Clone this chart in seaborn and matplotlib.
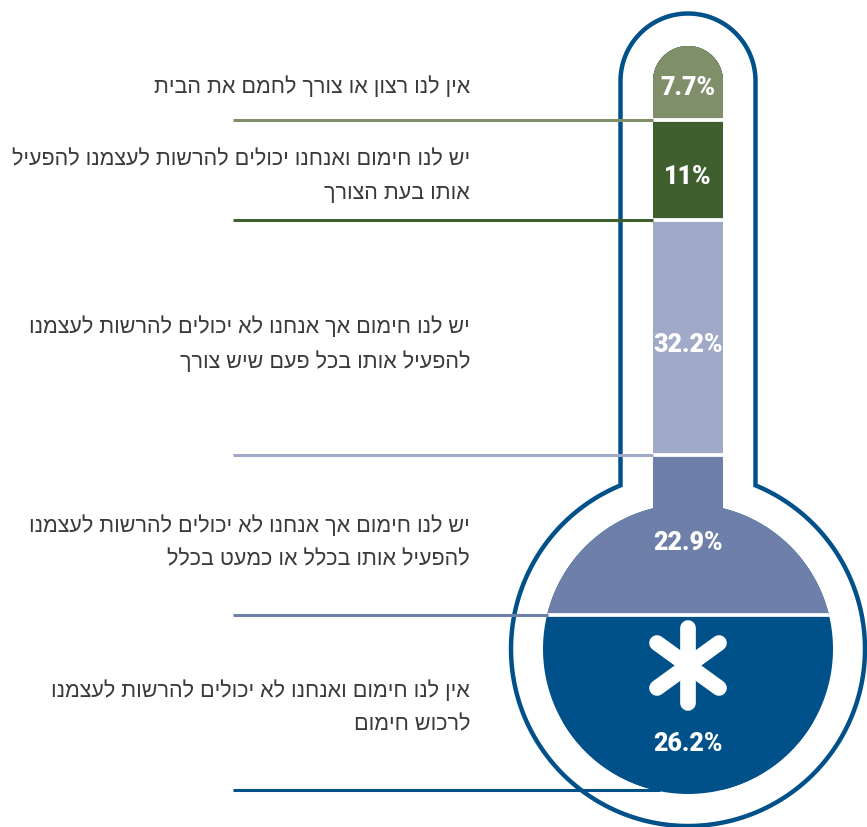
import numpy as np
import pandas as pd
import seaborn as sns
import matplotlib.pyplot as plt
from matplotlib.path import Path
from matplotlib.patches import PathPatch, Wedge

# Survey answers, top of the thermometer first
answers = [
    "אין לנו רצון או צורך לחמם את הבית",
    "יש לנו חימום ואנחנו יכולים להרשות לעצמנו להפעיל\nאותו בעת הצורך",
    "יש לנו חימום אך אנחנו לא יכולים להרשות לעצמנו\nלהפעיל אותו בכל פעם שיש צורך",
    "יש לנו חימום אך אנחנו לא יכולים להרשות לעצמנו\nלהפעיל אותו בכלל או כמעט בכלל",
    "אין לנו חימום ואנחנו לא יכולים להרשות לעצמנו\nלרכוש חימום",
]
values = [7.7, 11, 32.2, 22.9, 26.2]
value_labels = ["7.7%", "11%", "32.2%", "22.9%", "26.2%"]
colors = ["#7F8F6A", "#405F2E", "#A0A9C8", "#6E7FA9", "#00508A"]

# Layout in reference pixels
band_px = [47, 120.5, 220.5, 455.5, 615.5, 791]     # where each cumulative value sits
answer_y = [87, 177, 345, 543, 708]
value_y = [88, 177, 345, 543, 744]
leader_end = [653, 653, 653, 548, 660]
CX, CAP_Y, BULB_Y = 688, 82, 650


def rtl(text):
    # matplotlib has no bidi, so hand it each line in visual order
    return "\n".join(line[::-1] for line in text.split("\n"))


def thermometer(half, radius):
    cap = np.linspace(np.pi, 2 * np.pi, 60)
    start = np.arcsin(half / radius)
    bulb = np.linspace(start, 2 * np.pi - start, 200)
    xs = np.r_[CX + half * np.cos(cap), CX + radius * np.sin(bulb), CX - half]
    ys = np.r_[CAP_Y + half * np.sin(cap), BULB_Y - radius * np.cos(bulb), CAP_Y]
    return Path(np.column_stack([xs, ys]), closed=True)


sns.set_theme(style="white")
plt.rcParams["font.family"] = ["Liberation Sans", "DejaVu Sans"]

df = pd.DataFrame({"answer": answers, "value": values})
df["cum"] = df["value"].cumsum()
df["x"] = CX

fig = plt.figure(figsize=(8.67, 8.28), dpi=100)

# Pixel layer for the outline and the text positions
shape_ax = fig.add_axes([0, 0, 1, 1], zorder=1)
shape_ax.set_xlim(0, 867)
shape_ax.set_ylim(828, 0)
shape_ax.set_axis_off()

fill_path = thermometer(35, 145)
shape_ax.add_patch(PathPatch(thermometer(67.5, 177), fc="none", ec=colors[-1], lw=3.2, joinstyle="miter"))
shape_ax.add_patch(Wedge((CX, BULB_Y), 145, 30, 150, fc=colors[-1], lw=0))

# Bars stacked by overdrawing, largest cumulative first
ax = fig.add_axes([0, 0, 1, 1], zorder=2)
ax.patch.set_visible(False)
sns.barplot(data=df, x="x", y="cum", hue="answer", hue_order=answers[::-1],
            palette=dict(zip(answers, colors)), dodge=False, native_scale=True,
            width=400, saturation=1, linewidth=0, legend=False, ax=ax)

# The drawn heights are not proportional, so the axis follows the picture's bands
knots_val = np.r_[-10, 0, df["cum"].values, 110]
knots_px = np.r_[828 - 828, band_px, 828]
ax.set_yscale("function", functions=(lambda v: np.interp(v, knots_val, knots_px),
                                     lambda p: np.interp(p, knots_px, knots_val)))
ax.set_xlim(0, 867)
ax.set_ylim(110, -10)
ax.set_axis_off()

for bar in ax.patches:
    bar.set_clip_path(fill_path, shape_ax.transData)

edges = ax.hlines(df["cum"].values[:-1], 500, 870, color="white", lw=2.7, capstyle="butt", zorder=3)
edges.set_clip_path(fill_path, shape_ax.transData)
ax.hlines(df["cum"], 233, leader_end, colors=colors, lw=2.2, capstyle="butt", zorder=4)

# Asterisk in the bulb
for (x0, y0), (x1, y1) in [((688, 629), (688, 704)), ((657, 644), (719, 689)), ((657, 689), (719, 644))]:
    ax.plot([x0, x1], [y0, y1], color="white", lw=11.3, solid_capstyle="round",
            transform=shape_ax.transData, zorder=5)

for text, y in zip(answers, answer_y):
    ax.text(470, y, rtl(text), ha="right", va="center", ma="right", fontsize=15.5, color="#3A3A3A",
            linespacing=1.78, transform=shape_ax.transData, zorder=6)

for text, y in zip(value_labels, value_y):
    ax.text(CX, y, text, ha="center", va="center", fontsize=18, fontweight=900, family="Roboto",
            color="white", transform=shape_ax.transData, zorder=6)

fig.savefig("out.png", dpi=100)
